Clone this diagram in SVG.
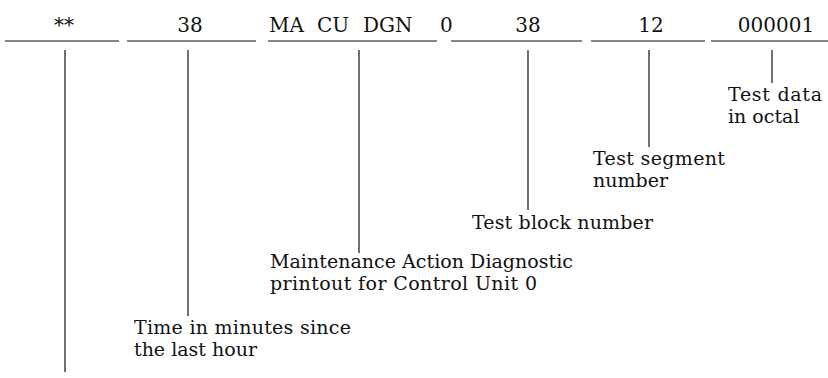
<svg xmlns="http://www.w3.org/2000/svg" width="828" height="378" viewBox="0 0 828 378">
<style>
text{font-family:"DejaVu Serif","Liberation Serif",serif;font-size:19px;fill:#111}
.top{text-anchor:middle;font-size:20px}
line{stroke:#111;stroke-width:1.2}
</style>
<rect width="828" height="378" fill="#fff"/>
<g id="fields">
<text class="top" x="64" y="32">**</text>
<text class="top" x="190" y="32">38</text>
<text x="269" y="32" style="font-size:20px">MA</text><text x="317" y="32" style="font-size:20px">CU</text><text x="363" y="32" style="font-size:20px">DGN</text><text x="440" y="32" style="font-size:20px">0</text>
<text class="top" x="528" y="32">38</text>
<text class="top" x="651" y="32">12</text>
<text class="top" x="776" y="32">000001</text>
</g>
<g id="rules">
<line x1="5" y1="41" x2="119" y2="41"/>
<line x1="127" y1="41" x2="256" y2="41"/>
<line x1="268" y1="41" x2="437" y2="41"/>
<line x1="451" y1="41" x2="582" y2="41"/>
<line x1="591" y1="41" x2="705" y2="41"/>
<line x1="711" y1="41" x2="828" y2="41"/>
</g>
<g id="connectors">
<line x1="65" y1="50" x2="65" y2="372"/>
<line x1="188" y1="50" x2="188" y2="316"/>
<line x1="359" y1="50" x2="359" y2="253"/>
<line x1="528" y1="50" x2="528" y2="210"/>
<line x1="649" y1="50" x2="649" y2="147"/>
<line x1="772" y1="50" x2="772" y2="83"/>
</g>
<g id="label-time"><text x="134" y="334" textLength="217">Time in minutes since</text><text x="134" y="356">the last hour</text></g>
<g id="label-maint"><text x="270" y="268" textLength="303">Maintenance Action Diagnostic</text><text x="270" y="290" textLength="267">printout for Control Unit 0</text></g>
<g id="label-block"><text x="472" y="229" textLength="181">Test block number</text></g>
<g id="label-segment"><text x="593" y="165" textLength="132">Test segment</text><text x="593" y="187">number</text></g>
<g id="label-data"><text x="728" y="101" textLength="94">Test data</text><text x="728" y="123">in octal</text></g>
</svg>
